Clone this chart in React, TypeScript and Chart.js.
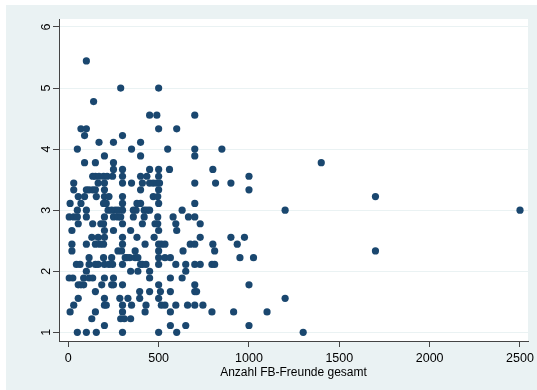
import React, { useEffect, useRef } from "react";
import { Chart, registerables } from "chart.js";

Chart.register(...registerables);

// Score levels (means of a 9-step scale) and the friend counts observed at each level
const scoreLevels: number[] = [
  5.444, 5.0, 4.778, 4.556, 4.333, 4.222, 4.111, 4.0, 3.889, 3.778, 3.667, 3.556,
  3.444, 3.333, 3.222, 3.111, 3.0, 2.889, 2.778, 2.667, 2.556, 2.444, 2.333, 2.222,
  2.111, 2.0, 1.889, 1.778, 1.667, 1.556, 1.444, 1.333, 1.222, 1.111, 1.0,
];

const friendsAtLevel: number[][] = [
  [100],
  [290, 500],
  [140],
  [450, 490, 700],
  [70, 100, 500, 600],
  [90, 300],
  [170, 250, 400],
  [50, 350, 550, 700, 850],
  [200, 400, 700],
  [90, 150, 250, 1400],
  [250, 300, 450, 500, 560, 800],
  [135, 150, 170, 195, 215, 245, 300, 400, 435, 500, 1000],
  [30, 165, 200, 300, 350, 410, 450, 470, 490, 505, 700, 815, 900],
  [30, 100, 115, 135, 150, 200, 400, 500, 1000],
  [55, 90, 155, 200, 225, 300, 470, 495, 1700],
  [10, 70, 195, 210, 300, 380, 400, 500, 700],
  [50, 100, 220, 240, 260, 275, 300, 360, 375, 420, 435, 450, 630, 1200, 2500],
  [5, 30, 50, 100, 200, 250, 275, 290, 360, 420, 495, 580, 665, 700],
  [55, 135, 180, 195, 300, 410, 480, 495, 595, 730],
  [20, 200, 250, 345, 500, 600],
  [130, 165, 200, 300, 380, 475, 730, 900, 975],
  [20, 100, 150, 175, 195, 300, 425, 500, 515, 535, 675, 700, 800, 935],
  [20, 275, 295, 370, 500, 635, 810, 1700],
  [115, 195, 240, 315, 325, 340, 370, 385, 500, 535, 565, 950, 1025],
  [45, 65, 115, 150, 165, 200, 225, 245, 300, 400, 410, 430, 500, 595, 650, 700, 730, 795, 810],
  [100, 345, 385, 450, 650],
  [5, 25, 85, 115, 135, 200, 250, 450, 565, 630],
  [55, 70, 85, 185, 240, 250, 300, 500, 700, 1000],
  [150, 395, 450, 510, 565, 700, 710],
  [55, 200, 285, 330, 395, 500, 1200],
  [30, 200, 210, 300, 350, 430, 515, 535, 595, 660, 700, 745],
  [10, 150, 300, 425, 565, 795, 915, 1100],
  [130, 290, 310, 345],
  [200, 565, 650, 1000],
  [50, 100, 155, 300, 500, 600, 1300],
];

const xTickValues = [0, 500, 1000, 1500, 2000, 2500];
const yTickValues = [1, 2, 3, 4, 5, 6];
const xAxisTitle = "Anzahl FB-Freunde gesamt";

const FONT = "12.5px 'Liberation Sans', Arial, Helvetica, sans-serif";

export default function App() {
  const canvasRef = useRef<HTMLCanvasElement | null>(null);

  useEffect(() => {
    document.body.style.margin = "0";
    const canvas = canvasRef.current;
    if (!canvas) return;

    const points: { x: number; y: number }[] = [];
    scoreLevels.forEach((s, i) => {
      friendsAtLevel[i].forEach((f) => points.push({ x: f, y: s }));
    });

    const stataPlugin = {
      id: "stataLook",
      beforeDraw(chart: any) {
        const { ctx, chartArea: a } = chart;
        ctx.save();
        ctx.fillStyle = "#ffffff";
        ctx.fillRect(0, 0, chart.width, chart.height);
        ctx.fillStyle = "#EAF2F3";
        ctx.fillRect(6, 5, chart.width - 6, chart.height - 5);
        ctx.fillStyle = "#ffffff";
        ctx.fillRect(a.left, a.top, a.right - a.left, a.bottom - a.top);
        ctx.restore();
      },
      afterDraw(chart: any) {
        const { ctx, chartArea: a } = chart;
        const ys = chart.scales.y;
        const xs = chart.scales.x;
        ctx.save();
        ctx.fillStyle = "#000000";
        ctx.font = FONT;
        for (const v of yTickValues) {
          const py = ys.getPixelForValue(v);
          ctx.save();
          ctx.translate(49.5, py);
          ctx.rotate(-Math.PI / 2);
          ctx.textAlign = "center";
          ctx.textBaseline = "alphabetic";
          ctx.fillText(String(v), 0, 0);
          ctx.restore();
        }
        ctx.textAlign = "center";
        ctx.textBaseline = "alphabetic";
        for (const v of xTickValues) {
          const px = xs.getPixelForValue(v);
          ctx.fillText(String(v), px, 362);
        }
        ctx.font = "12px 'Liberation Sans', Arial, Helvetica, sans-serif";
        ctx.fillText(xAxisTitle, (a.left + a.right) / 2, 375.5);
        ctx.restore();
      },
    };

    const chart = new Chart(canvas, {
      type: "scatter",
      data: {
        datasets: [
          {
            data: points,
            backgroundColor: "#1A476F",
            borderWidth: 0,
            pointRadius: 3.6,
            pointHoverRadius: 3.6,
            pointBorderWidth: 0,
          },
        ],
      },
      options: {
        responsive: false,
        animation: false,
        devicePixelRatio: 1,
        layout: { padding: { top: 19, right: 9, left: 0, bottom: 0 } },
        plugins: {
          legend: { display: false },
          tooltip: { enabled: false },
        },
        scales: {
          x: {
            type: "linear",
            min: -51.5,
            max: 2544.3,
            afterBuildTicks: (s: any) => {
              s.ticks = xTickValues.map((v) => ({ value: v }));
            },
            afterFit: (s: any) => {
              s.height = 49;
            },
            ticks: { display: false },
            grid: {
              display: true,
              drawOnChartArea: false,
              drawTicks: true,
              tickLength: 6,
              tickColor: "#444444",
              tickWidth: 1,
            },
            border: { display: true, color: "#444444", width: 1 },
          },
          y: {
            type: "linear",
            min: 0.8575,
            max: 6.131,
            afterBuildTicks: (s: any) => {
              s.ticks = yTickValues.map((v) => ({ value: v }));
            },
            afterFit: (s: any) => {
              s.width = 59;
            },
            ticks: { display: false },
            grid: {
              display: true,
              drawOnChartArea: true,
              color: "#EAF2F3",
              lineWidth: 1,
              drawTicks: true,
              tickLength: 6,
              tickColor: "#444444",
              tickWidth: 1,
            },
            border: { display: true, color: "#444444", width: 1 },
          },
        },
      },
      plugins: [stataPlugin],
    } as any);

    return () => chart.destroy();
  }, []);

  return (
    <div style={{ position: "absolute", left: 0, top: 0, width: 537, height: 390 }}>
      <canvas ref={canvasRef} width={537} height={390} style={{ display: "block" }} />
    </div>
  );
}
